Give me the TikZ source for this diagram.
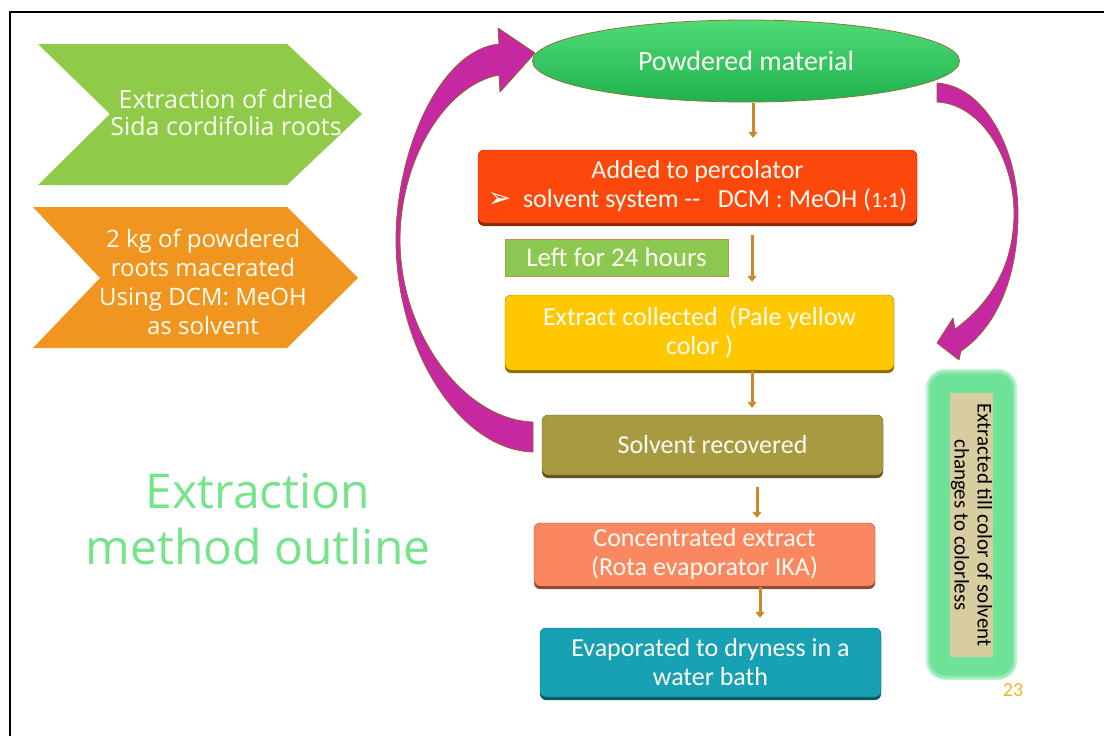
\documentclass[tikz,border=0pt]{standalone}
\usepackage{fontspec}
\setmainfont{Carlito}
\newfontfamily\osans{Open Sans}
\newfontfamily\djv{DejaVu Sans}
\usetikzlibrary{shapes.geometric,arrows.meta}
\definecolor{chevgreen}{RGB}{143,203,72}
\definecolor{chevorange}{RGB}{240,150,32}
\definecolor{titlec}{RGB}{118,228,140}
\definecolor{ellc}{RGB}{30,178,78}
\definecolor{ellhi}{RGB}{80,218,120}
\definecolor{redc}{RGB}{252,72,12}
\definecolor{leftc}{RGB}{140,200,80}
\definecolor{leftbd}{RGB}{200,140,70}
\definecolor{yelc}{RGB}{255,200,0}
\definecolor{olivec}{RGB}{168,154,64}
\definecolor{salmonc}{RGB}{250,135,95}
\definecolor{tealc}{RGB}{24,160,180}
\definecolor{glowc}{RGB}{110,226,152}
\definecolor{tanc}{RGB}{216,205,160}
\definecolor{magc}{RGB}{198,40,162}
\definecolor{magbd}{RGB}{150,95,45}
\definecolor{flowc}{RGB}{205,135,40}
\definecolor{pagec}{RGB}{240,180,40}
\definecolor{txtw}{RGB}{252,252,242}
\tikzset{
  box/.style={rounded corners=6pt, draw=#1!65!black, fill=#1, text=txtw,
    align=center, inner sep=0pt,
    preaction={fill=#1!55!black, transform canvas={yshift=-3pt}},
    font=\fontsize{26}{29}\selectfont},
  flow/.style={draw=flowc, line width=3pt, -{Triangle[length=6pt,width=9pt]}},
  bigarrow/.style={fill=magc, draw=magbd, line width=0.8pt, line join=round},
  chevtext/.style={text=txtw, align=center, font=\osans\fontsize{25}{27}\selectfont}
}
\begin{document}
\begin{tikzpicture}[x=1pt,y=-1pt]
\useasboundingbox (0,0) rectangle (1104,736);
\fill[white] (0,0) rectangle (1104,736);
\draw[line width=2.6pt] (10,736) -- (10,12) -- (1104,12);

% left chevrons
\fill[chevgreen] (38,44) -- (287,44) -- (362,114) -- (287,185) -- (38,185) -- (110,114) -- cycle;
\node (t1) [chevtext] at (226,113) {Extraction of dried\\Sida cordifolia roots};
\fill[chevorange] (33,207) -- (287,207) -- (358,278) -- (287,348) -- (33,348) -- (100,278) -- cycle;
\node (t2) [chevtext, font=\osans\fontsize{24}{29}\selectfont] at (203,282) {2 kg of powdered\\roots macerated\\Using DCM: MeOH\\as solvent};

% title
\node (title) [text=titlec, align=center, font=\osans\fontsize{48}{56}\selectfont] at (258,519) {Extraction\\method outline};

% big curved arrows
\path[bigarrow] (533,452) .. controls (460,450) and (396,350) .. (396,240)
  .. controls (396,150) and (440,50) .. (499,44)
  -- (498,28) -- (535,53) -- (500,92) -- (499,75)
  .. controls (445,85) and (400,160) .. (400,240)
  .. controls (400,335) and (465,420) .. (533,422) -- cycle;
\path[bigarrow] (937,83) .. controls (985,86) and (1018,150) .. (1018,213)
  .. controls (1018,280) and (995,328) .. (961,351)
  -- (959,360) -- (937,343) -- (953,318) -- (955,329)
  .. controls (988,305) and (1014,268) .. (1014,213)
  .. controls (1014,160) and (982,104) .. (937,102) -- cycle;

% ellipse
\node (pm) [ellipse, minimum width=427, minimum height=82, inner sep=0pt,
  top color=ellhi, bottom color=ellc, draw=olivec!80!black, line width=0.8pt,
  text=txtw, font=\fontsize{28}{30}\selectfont] at (746,61) {Powdered material};

% boxes
\node (perc) [box=redc, minimum width=439, minimum height=73] at (697.5,186.5)
  {Added to percolator\\{\djv\fontsize{28}{22}\selectfont ➢}\ \ solvent system -{}-\ \ \ DCM : MeOH ({\fontsize{22}{24}\selectfont 1:1})};
\node (left) [draw=leftbd, line width=1pt, fill=leftc, text=txtw, inner sep=0pt,
  minimum width=223, minimum height=37, font=\fontsize{27}{29}\selectfont] at (616.5,257.5) {Left for 24 hours};
\node (yel) [box=yelc, minimum width=389, minimum height=75] at (699.5,332.5)
  {Extract collected\ \ (Pale yellow\\color )};
\node (olive) [box=olivec, minimum width=341, minimum height=60] at (712.5,445)
  {Solvent recovered};
\node (conc) [box=salmonc, minimum width=341, minimum height=63] at (704.5,554.5)
  {Concentrated extract\\(Rota evaporator IKA)};
\node (evap) [box=tealc, minimum width=341, minimum height=69] at (710.5,662.5)
  {Evaporated to dryness in a\\water bath};

% side note
\fill[glowc!45!white, rounded corners=19pt] (926,369) rectangle (1017,680);
\fill[glowc!75!white, rounded corners=17pt] (928,371) rectangle (1015,678);
\node (glow) [fill=glowc, rounded corners=16pt, minimum width=83, minimum height=302, inner sep=0pt] at (971.5,524.5) {};
\node (note) [fill=tanc, rotate=-90, minimum width=264, minimum height=43, inner sep=0pt,
  align=center, font=\fontsize{21}{23}\selectfont] at (971.5,525)
  {Extracted till color of solvent\\changes to colorless};
\node (pg) [text=pagec, font=\fontsize{20}{22}\selectfont] at (1013,690) {23};

% flow arrows
\coordinate (xa) at (753,0);
\coordinate (xb) at (752,0);
\coordinate (xc) at (757,0);
\coordinate (xd) at (760,0);
\draw[flow, shorten <=1pt, shorten >=12pt] (pm.south -| xa) -- (perc.north -| xa);
\draw[flow, shorten <=12pt, shorten >=13pt] (perc.south -| xb) -- (yel.north -| xb);
\draw[flow, shorten <=1pt, shorten >=7pt] (yel.south -| xb) -- (olive.north -| xb);
\draw[flow, shorten <=12pt, shorten >=5pt] (olive.south -| xc) -- (conc.north -| xc);
\draw[flow, shorten <=1pt, shorten >=10pt] (conc.south -| xd) -- (evap.north -| xd);
\end{tikzpicture}
\end{document}
